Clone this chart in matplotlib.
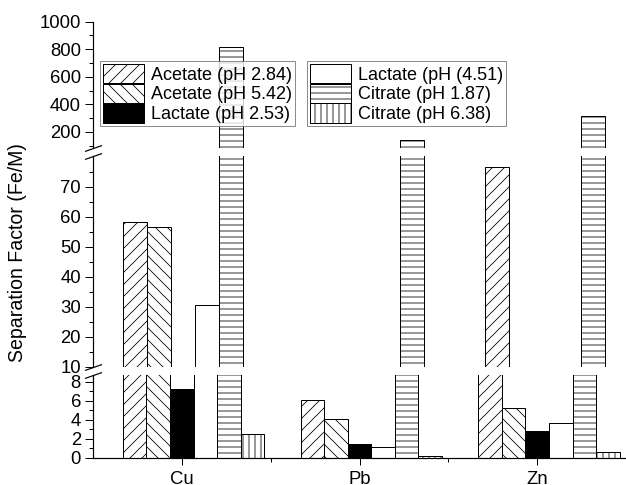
#!/usr/bin/env python

"""
Plots the separation factor (Fe/M) as a bar chart with a broken y axis.
"""

import matplotlib.pyplot as plt
import numpy as np

plt.rc("font", family=["Liberation Sans", "DejaVu Sans"])
plt.rc("hatch", linewidth=0.8)

# Data
metals  = ["Cu", "Pb", "Zn"]
labels  = ["Acetate (pH 2.84)", "Acetate (pH 5.42)", "Lactate (pH 2.53)",
           "Lactate (pH (4.51)", "Citrate (pH 1.87)", "Citrate (pH 6.38)"]
acetate284 = [58.1, 6.1, 76.5]
acetate542 = [56.4, 4.05, 5.2]
lactate253 = [7.2, 1.4, 2.85]
lactate451 = [30.6, 1.12, 3.6]
citrate187 = [815.0, 142.0, 318.0]
citrate638 = [2.5, 0.15, 0.63]
series = [acetate284, acetate542, lactate253, lactate451, citrate187, citrate638]

# Styles
hatches = ["//", "\\\\", "", "", "--", "||"]
faces   = ["white", "white", "black", "white", "white", "white"]

# Sizes (figure is in pixels at 72 dpi, so 1 pt = 1 px)
W, H      = 626, 485
dpi       = 72
fontSize  = 18.5
legSize   = 18
barWidth  = 0.1326
leftPx    = 93
# (top px, bottom px, ylim) for each panel, top to bottom
panels = [(21.5, 148.0, (84, 1000)),
          (156.0, 366.7, (10, 80.2)),
          (375.0, 457.7, (0, 8.7))]
majors = [[200, 400, 600, 800, 1000],
          [10, 20, 30, 40, 50, 60, 70],
          [0, 2, 4, 6, 8]]
minors = [[100, 300, 500, 700, 900],
          [15, 25, 35, 45, 55, 65, 75],
          [1, 3, 5, 7]]

fig = plt.figure(figsize=(W/dpi, H/dpi), dpi=dpi)
axes = []
x = np.arange(len(metals))

for k, (topPx, botPx, ylim) in enumerate(panels):
    ax = fig.add_axes([leftPx/W, 1 - botPx/H, 1 - leftPx/W, (botPx - topPx)/H])
    for i, values in enumerate(series):
        ax.bar(x + (i - 2.5)*barWidth, values, barWidth, align="edge",
               color=faces[i], edgecolor="black", hatch=hatches[i],
               lw=1.0, label=labels[i])
    ax.set_xlim(-0.5, 2.447)
    ax.set_ylim(*ylim)
    ax.set_yticks(majors[k])
    ax.set_yticks(minors[k], minor=True)
    ax.tick_params(axis="y", which="major", length=8, width=1,
                   labelsize=fontSize, pad=4)
    ax.tick_params(axis="y", which="minor", length=4, width=1)
    for side in ["top", "right"]:
        ax.spines[side].set_visible(False)
    ax.spines["left"].set_linewidth(1.2)
    if k < 2:
        ax.spines["bottom"].set_visible(False)
        ax.tick_params(axis="x", which="both", bottom=False, labelbottom=False)
    axes.append(ax)

# Bottom x axis
axBot = axes[-1]
axBot.spines["bottom"].set_linewidth(1.2)
axBot.set_xticks(x)
axBot.set_xticklabels(metals)
axBot.set_xticks([0.5, 1.5, 2.5], minor=True)
axBot.tick_params(axis="x", which="major", length=7, width=1,
                  labelsize=fontSize, pad=6)
axBot.tick_params(axis="x", which="minor", length=4, width=1)

# Break marks on the left spine
slash = [(-1, -0.35), (1, 0.35)]
breakKw = dict(marker=slash, markersize=17, linestyle="none", color="k",
               mec="k", mew=1.2, clip_on=False)
axes[0].plot([0], [0], transform=axes[0].transAxes, **breakKw)
axes[1].plot([0, 0], [0, 1], transform=axes[1].transAxes, **breakKw)
axes[2].plot([0], [1], transform=axes[2].transAxes, **breakKw)

# Y label
fig.text(18/W, 1 - 253/H, "Separation Factor (Fe/M)", rotation=90,
         ha="center", va="center", fontsize=19.5)

# Two legends
handles, legLabels = axes[0].get_legend_handles_labels()
legKw = dict(loc="upper left", fontsize=legSize, frameon=True, fancybox=False,
             handlelength=2.3, handleheight=1.3, labelspacing=0.0,
             handletextpad=0.4, borderpad=0.15, borderaxespad=0.0)
leg1 = fig.legend(handles[:3], legLabels[:3],
                  bbox_to_anchor=(100/W, 1 - 61/H), **legKw)
leg2 = fig.legend(handles[3:], legLabels[3:],
                  bbox_to_anchor=(307/W, 1 - 61/H), **legKw)
for leg in [leg1, leg2]:
    leg.get_frame().set_edgecolor("#707070")
    leg.get_frame().set_linewidth(1.0)

fig.savefig("out.png", dpi=dpi)
